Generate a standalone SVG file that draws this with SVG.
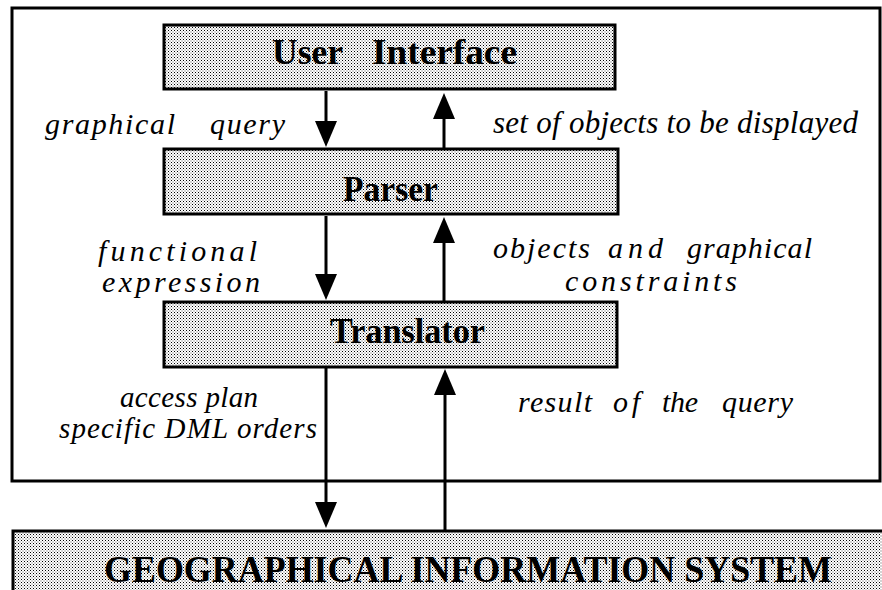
<svg xmlns="http://www.w3.org/2000/svg" width="882" height="590" viewBox="0 0 882 590">
<defs>
<pattern id="dots" patternUnits="userSpaceOnUse" width="3" height="3">
<rect width="3" height="3" fill="#ffffff"/>
<rect x="0" y="0" width="1" height="1" fill="#000"/>
<rect x="1.5" y="1.5" width="1" height="1" fill="#555"/>
</pattern>
<marker id="head" markerUnits="userSpaceOnUse" markerWidth="28" markerHeight="24" refX="16" refY="11" orient="auto">
<path d="M0,0 L26,11 L0,22 z" fill="#000"/>
</marker>
<style>
.box{fill:url(#dots);stroke:#000;stroke-width:3}
.title{font-family:"Liberation Serif","Times New Roman",serif;font-weight:bold;fill:#000}
.lbl{font-family:"Liberation Serif","Times New Roman",serif;font-style:italic;fill:#000}
.conn{stroke:#000;stroke-width:3;fill:none;marker-end:url(#head)}
.frame{fill:none;stroke:#000;stroke-width:3}
</style>
</defs>
<rect width="882" height="590" fill="#fff"/>
<rect class="frame" x="12" y="8" width="868" height="473"/>

<g id="user-interface">
<rect class="box" x="164" y="25" width="451" height="64"/>
<text class="title" font-size="35" y="64"><tspan x="272" textLength="71" lengthAdjust="spacingAndGlyphs">User</tspan><tspan x="372" textLength="145" lengthAdjust="spacingAndGlyphs">Interface</tspan></text>
</g>

<g id="parser">
<rect class="box" x="164" y="149" width="454" height="65"/>
<text class="title" font-size="35" x="343" y="201" textLength="95" lengthAdjust="spacingAndGlyphs">Parser</text>
</g>

<g id="translator">
<rect class="box" x="164" y="302" width="453" height="65"/>
<text class="title" font-size="35" x="330" y="343" textLength="155" lengthAdjust="spacingAndGlyphs">Translator</text>
</g>

<g id="gis">
<rect class="box" x="13" y="531" width="884" height="70"/>
<text class="title" font-size="37" x="104" y="582" textLength="728" lengthAdjust="spacingAndGlyphs">GEOGRAPHICAL INFORMATION SYSTEM</text>
</g>

<g id="connectors">
<line class="conn" x1="326" y1="91" x2="326" y2="137"/>
<line class="conn" x1="444" y1="148" x2="444" y2="103"/>
<line class="conn" x1="326" y1="216" x2="326" y2="290"/>
<line class="conn" x1="444" y1="301" x2="444" y2="227"/>
<line class="conn" x1="326" y1="368" x2="326" y2="518"/>
<line class="conn" x1="445" y1="531" x2="445" y2="379"/>
</g>

<g id="labels">
<text class="lbl" font-size="30" y="134"><tspan x="45" textLength="130" lengthAdjust="spacing">graphical</tspan><tspan x="210" textLength="75" lengthAdjust="spacing">query</tspan></text>
<text class="lbl" font-size="31" x="493" y="133" textLength="365" lengthAdjust="spacing">set of objects to be displayed</text>
<text class="lbl" font-size="30" x="98" y="261" textLength="159" lengthAdjust="spacing">functional</text>
<text class="lbl" font-size="30" x="102" y="292" textLength="158" lengthAdjust="spacing">expression</text>
<text class="lbl" font-size="30" y="258"><tspan x="493" textLength="97" lengthAdjust="spacing">objects</tspan><tspan x="608" textLength="55" lengthAdjust="spacing">and</tspan><tspan x="687" textLength="125" lengthAdjust="spacing">graphical</tspan></text>
<text class="lbl" font-size="30" x="565" y="291" textLength="172" lengthAdjust="spacing">constraints</text>
<text class="lbl" font-size="29" x="120" y="407" textLength="138" lengthAdjust="spacing">access plan</text>
<text class="lbl" font-size="29" x="59" y="438" textLength="258" lengthAdjust="spacing">specific DML orders</text>
<text class="lbl" font-size="30" y="412"><tspan x="518" textLength="74" lengthAdjust="spacing">result</tspan><tspan x="613" textLength="27" lengthAdjust="spacing">of</tspan><tspan x="662" textLength="36" lengthAdjust="spacing">the</tspan><tspan x="722" textLength="71" lengthAdjust="spacing">query</tspan></text>
</g>
</svg>
